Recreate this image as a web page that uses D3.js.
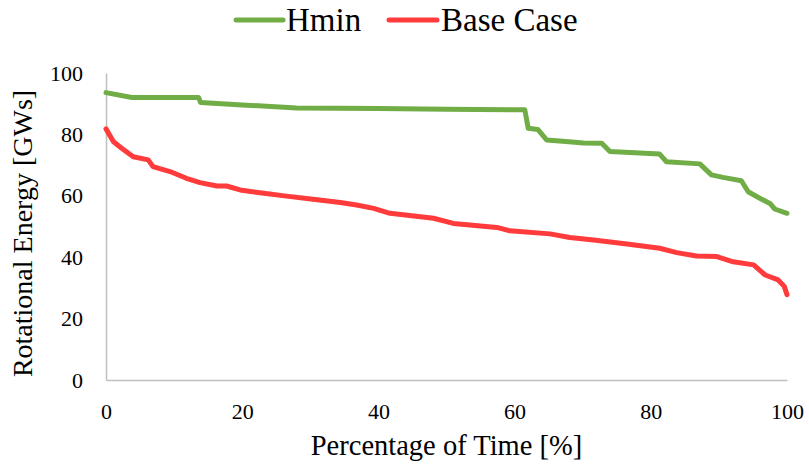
<!DOCTYPE html>
<html>
<head>
<meta charset="utf-8">
<script src="https://cdn.jsdelivr.net/npm/d3@7"></script>
<style>
  html, body { margin: 0; padding: 0; background: #fff; }
  svg { display: block; }
</style>
</head>
<body>
<svg id="chart" width="809" height="468"></svg>
<script>
// Duration curves of rotational energy (sorted, % of time on x)
const seriesNames = ["Hmin", "Base Case"];
const seriesColors = ["#70AD47", "#FF3B3B"];

const hminPct = [0, 3.8, 13.6, 13.9, 20, 28, 40, 50, 61.5, 62.0, 63.4, 64.7, 68.0, 70.1, 72.8, 74.0, 81.3, 82.3, 87.2, 88.9, 90.6, 93.3, 94.3, 96.0, 97.5, 98.2, 100];
const hminVal = [93.6, 92.0, 92.0, 90.4, 89.6, 88.6, 88.4, 88.2, 88.0, 82.0, 81.6, 78.2, 77.6, 77.2, 77.1, 74.4, 73.6, 71.1, 70.4, 66.8, 66.0, 64.9, 61.3, 59.2, 57.5, 55.7, 54.3];

const basePct = [0, 1.1, 2.3, 4.0, 6.2, 6.9, 9.4, 11.8, 13.8, 16.3, 17.7, 19.7, 22.6, 26.5, 30.4, 34.4, 36.8, 39.3, 41.7, 48.1, 51.0, 57.4, 59.3, 65.2, 68.1, 71.6, 76.5, 81.3, 83.8, 86.7, 89.7, 92.1, 95.1, 96.8, 98.7, 99.6, 100];
const baseVal = [81.8, 77.6, 75.5, 72.7, 71.7, 69.5, 67.9, 65.7, 64.3, 63.2, 63.2, 61.9, 61.0, 59.9, 58.9, 57.8, 57.0, 55.9, 54.3, 52.7, 51.0, 49.7, 48.6, 47.6, 46.4, 45.6, 44.3, 42.9, 41.5, 40.4, 40.2, 38.5, 37.5, 34.2, 32.6, 30.5, 27.8];

const xTicks = [0, 20, 40, 60, 80, 100];
const yTicks = [0, 20, 40, 60, 80, 100];

const xTitle = "Percentage of Time [%]";
const yTitle = "Rotational Energy [GWs]";

const serif = "'Liberation Serif', 'Times New Roman', Times, serif";

const svg = d3.select("#chart");
const plot = { left: 106, right: 787, top: 73, bottom: 380 };

const x = d3.scaleLinear().domain([0, 100]).range([plot.left, plot.right]);
const y = d3.scaleLinear().domain([0, 100]).range([plot.bottom, plot.top]);

// y axis
const yAxis = svg.append("g")
  .attr("transform", `translate(${plot.left},0)`)
  .call(d3.axisLeft(y).tickValues(yTicks).tickSize(0).tickPadding(23).tickFormat(d3.format("d")));
yAxis.select(".domain").attr("stroke", "#BFBFBF").attr("stroke-width", 1.5);
yAxis.selectAll("text").style("font-family", serif).style("font-size", "22px").attr("fill", "#000");

// x axis
const xAxis = svg.append("g")
  .attr("transform", `translate(0,${plot.bottom})`)
  .call(d3.axisBottom(x).tickValues(xTicks).tickSize(0).tickPadding(23).tickFormat(d3.format("d")));
xAxis.select(".domain").attr("stroke", "#BFBFBF").attr("stroke-width", 1.5);
xAxis.selectAll("text").style("font-family", serif).style("font-size", "22px").attr("fill", "#000");

// axis titles
svg.append("text")
  .attr("x", (plot.left + plot.right) / 2).attr("y", 455)
  .attr("text-anchor", "middle")
  .style("font-family", serif).style("font-size", "28.5px")
  .text(xTitle);
svg.append("text")
  .attr("transform", `translate(32,${(plot.top + plot.bottom) / 2 + 7}) rotate(-90)`)
  .attr("text-anchor", "middle")
  .style("font-family", serif).style("font-size", "28px")
  .text(yTitle);

// lines
const line = d3.line().x(d => x(d[0])).y(d => y(d[1]));
const seriesData = [
  d3.zip(hminPct, hminVal),
  d3.zip(basePct, baseVal)
];
seriesData.forEach((pts, i) => {
  svg.append("path")
    .datum(pts)
    .attr("fill", "none")
    .attr("stroke", seriesColors[i])
    .attr("stroke-width", 5)
    .attr("stroke-linejoin", "round")
    .attr("stroke-linecap", "round")
    .attr("d", line);
});

// legend
const legendItems = [
  { x1: 236, x2: 283, tx: 286 },
  { x1: 389, x2: 437, tx: 441 }
];
seriesNames.forEach((name, i) => {
  const g = svg.append("g");
  g.append("line")
    .attr("x1", legendItems[i].x1).attr("x2", legendItems[i].x2)
    .attr("y1", 20).attr("y2", 20)
    .attr("stroke", seriesColors[i]).attr("stroke-width", 5)
    .attr("stroke-linecap", "round");
  g.append("text")
    .attr("x", legendItems[i].tx).attr("y", 31)
    .style("font-family", serif).style("font-size", "33px")
    .text(name);
});
</script>
</body>
</html>
